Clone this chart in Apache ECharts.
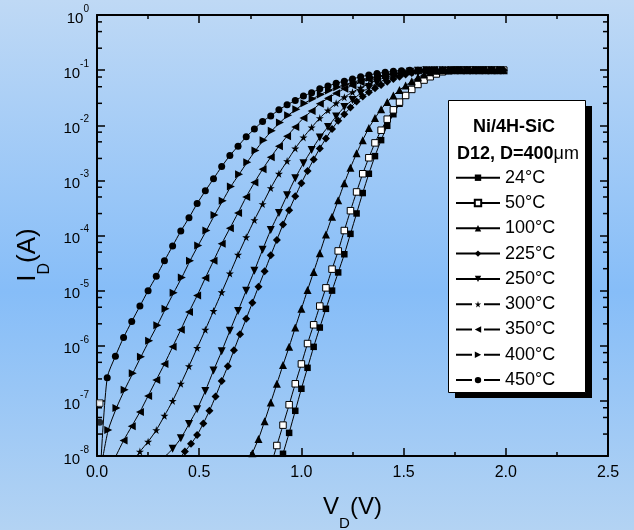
<!DOCTYPE html>
<html>
<head>
<meta charset="utf-8">
<title>Ni/4H-SiC I-V</title>
<script src="https://cdn.jsdelivr.net/npm/echarts@6.0.0/dist/echarts.min.js"></script>
<style>
  html, body { margin: 0; padding: 0; }
  #chart { width: 634px; height: 530px; }
</style>
</head>
<body>
<div id="chart"></div>
<script>
// [V_D (V), log10 I_D], one list per temperature
const pts24 = [[0.88,-8.34],[0.91,-7.96],[0.94,-7.58],[0.97,-7.18],[1.00,-6.78],[1.03,-6.40],[1.06,-6.02],[1.09,-5.67],[1.12,-5.33],[1.15,-5.00],[1.18,-4.67],[1.21,-4.34],[1.24,-3.97],[1.27,-3.60],[1.30,-3.23],[1.33,-2.88],[1.36,-2.56],[1.39,-2.27],[1.42,-2.01],[1.45,-1.80],[1.48,-1.61],[1.51,-1.46],[1.54,-1.34],[1.57,-1.24],[1.60,-1.16],[1.63,-1.10],[1.66,-1.05],[1.69,-1.02],[1.72,-1],[1.75,-1],[1.78,-1],[1.81,-1],[1.84,-1],[1.87,-1],[1.90,-1],[1.93,-1],[1.96,-1],[1.99,-1]];
const pts50 = [[0.85,-8.18],[0.88,-7.81],[0.91,-7.44],[0.94,-7.07],[0.97,-6.69],[1.00,-6.33],[1.03,-5.96],[1.06,-5.62],[1.09,-5.28],[1.12,-4.95],[1.15,-4.61],[1.18,-4.28],[1.21,-3.91],[1.24,-3.55],[1.27,-3.21],[1.30,-2.88],[1.33,-2.59],[1.36,-2.32],[1.39,-2.09],[1.42,-1.89],[1.45,-1.72],[1.48,-1.58],[1.51,-1.46],[1.54,-1.35],[1.57,-1.26],[1.60,-1.18],[1.63,-1.12],[1.66,-1.07],[1.69,-1.03],[1.72,-1.01],[1.75,-1],[1.78,-1],[1.81,-1],[1.84,-1],[1.87,-1],[1.90,-1],[1.93,-1],[1.96,-1],[1.99,-1]];
const pts100 = [[0.73,-8.25],[0.76,-7.95],[0.79,-7.69],[0.82,-7.37],[0.85,-7.03],[0.88,-6.69],[0.91,-6.35],[0.94,-6.02],[0.97,-5.67],[1.00,-5.33],[1.03,-4.99],[1.06,-4.66],[1.09,-4.32],[1.12,-3.98],[1.15,-3.66],[1.18,-3.36],[1.21,-3.05],[1.24,-2.77],[1.27,-2.51],[1.30,-2.27],[1.33,-2.05],[1.36,-1.87],[1.39,-1.71],[1.42,-1.58],[1.45,-1.46],[1.48,-1.36],[1.51,-1.28],[1.54,-1.20],[1.57,-1.13],[1.60,-1.08],[1.63,-1.04],[1.66,-1.01],[1.69,-1],[1.72,-1],[1.75,-1],[1.78,-1],[1.81,-1],[1.84,-1],[1.87,-1],[1.90,-1],[1.93,-1],[1.96,-1],[1.99,-1]];
const pts225 = [[0.40,-8.06],[0.43,-7.92],[0.46,-7.78],[0.49,-7.62],[0.52,-7.41],[0.55,-7.18],[0.58,-6.92],[0.61,-6.64],[0.64,-6.37],[0.67,-6.08],[0.70,-5.79],[0.73,-5.51],[0.76,-5.22],[0.79,-4.93],[0.82,-4.65],[0.85,-4.36],[0.88,-4.08],[0.91,-3.80],[0.94,-3.54],[0.97,-3.29],[1.00,-3.05],[1.03,-2.83],[1.06,-2.62],[1.09,-2.42],[1.12,-2.24],[1.15,-2.07],[1.18,-1.92],[1.21,-1.80],[1.24,-1.68],[1.27,-1.57],[1.30,-1.48],[1.33,-1.40],[1.36,-1.33],[1.39,-1.27],[1.42,-1.21],[1.45,-1.16],[1.48,-1.12],[1.51,-1.08],[1.54,-1.05],[1.57,-1.03],[1.60,-1.01],[1.63,-1],[1.66,-1],[1.69,-1],[1.72,-1],[1.75,-1],[1.78,-1],[1.81,-1],[1.84,-1],[1.87,-1],[1.90,-1],[1.93,-1],[1.96,-1],[1.99,-1]];
const pts250 = [[0.33,-8.02],[0.37,-7.87],[0.41,-7.68],[0.45,-7.42],[0.49,-7.15],[0.53,-6.82],[0.57,-6.45],[0.61,-6.10],[0.65,-5.73],[0.69,-5.37],[0.73,-5.00],[0.77,-4.64],[0.81,-4.26],[0.85,-3.90],[0.89,-3.59],[0.93,-3.27],[0.97,-2.96],[1.01,-2.69],[1.05,-2.45],[1.09,-2.22],[1.13,-2.03],[1.17,-1.84],[1.21,-1.67],[1.25,-1.54],[1.29,-1.42],[1.33,-1.32],[1.37,-1.24],[1.41,-1.17],[1.45,-1.12],[1.49,-1.07],[1.53,-1.03],[1.57,-1.01],[1.61,-1],[1.65,-1],[1.69,-1],[1.73,-1],[1.77,-1],[1.81,-1],[1.85,-1],[1.89,-1],[1.93,-1],[1.97,-1]];
const pts300 = [[0.17,-8.12],[0.21,-7.92],[0.25,-7.74],[0.29,-7.53],[0.33,-7.27],[0.37,-7.00],[0.41,-6.69],[0.45,-6.37],[0.49,-6.04],[0.53,-5.71],[0.57,-5.37],[0.61,-5.03],[0.65,-4.69],[0.69,-4.35],[0.73,-4.03],[0.77,-3.72],[0.81,-3.43],[0.85,-3.14],[0.89,-2.88],[0.93,-2.65],[0.97,-2.42],[1.01,-2.22],[1.05,-2.04],[1.09,-1.87],[1.13,-1.73],[1.17,-1.60],[1.21,-1.49],[1.25,-1.40],[1.29,-1.32],[1.33,-1.25],[1.37,-1.18],[1.41,-1.14],[1.45,-1.09],[1.49,-1.06],[1.53,-1.03],[1.57,-1.01],[1.61,-1],[1.65,-1],[1.69,-1],[1.73,-1],[1.77,-1],[1.81,-1],[1.85,-1],[1.89,-1],[1.93,-1],[1.97,-1]];
const pts350 = [[0.09,-8.02],[0.13,-7.72],[0.17,-7.46],[0.21,-7.20],[0.25,-6.91],[0.29,-6.62],[0.33,-6.33],[0.37,-6.02],[0.41,-5.71],[0.45,-5.39],[0.49,-5.09],[0.53,-4.77],[0.57,-4.46],[0.61,-4.15],[0.65,-3.87],[0.69,-3.59],[0.73,-3.30],[0.77,-3.04],[0.81,-2.80],[0.85,-2.58],[0.89,-2.38],[0.93,-2.20],[0.97,-2.03],[1.01,-1.87],[1.05,-1.74],[1.09,-1.61],[1.13,-1.51],[1.17,-1.42],[1.21,-1.34],[1.25,-1.28],[1.29,-1.22],[1.33,-1.17],[1.37,-1.13],[1.41,-1.10],[1.45,-1.07],[1.49,-1.05],[1.53,-1.03],[1.57,-1.01],[1.61,-1],[1.65,-1],[1.69,-1],[1.73,-1],[1.77,-1],[1.81,-1],[1.85,-1],[1.89,-1],[1.93,-1],[1.97,-1]];
const pts400 = [[0.025,-8.1],[0.055,-7.53],[0.095,-7.13],[0.135,-6.80],[0.175,-6.50],[0.215,-6.20],[0.255,-5.91],[0.295,-5.63],[0.335,-5.33],[0.375,-5.04],[0.415,-4.76],[0.455,-4.46],[0.495,-4.18],[0.535,-3.91],[0.575,-3.63],[0.615,-3.37],[0.655,-3.11],[0.695,-2.89],[0.735,-2.67],[0.775,-2.46],[0.815,-2.27],[0.855,-2.10],[0.895,-1.95],[0.935,-1.82],[0.975,-1.71],[1.015,-1.60],[1.055,-1.52],[1.095,-1.44],[1.135,-1.37],[1.175,-1.31],[1.215,-1.26],[1.255,-1.22],[1.295,-1.17],[1.335,-1.14],[1.375,-1.11],[1.415,-1.08],[1.455,-1.06],[1.495,-1.04],[1.535,-1.02],[1.575,-1.01],[1.615,-1],[1.655,-1],[1.695,-1],[1.735,-1],[1.775,-1],[1.815,-1],[1.855,-1],[1.895,-1],[1.935,-1],[1.975,-1]];
const pts450 = [[0.02,-8.05],[0.05,-6.58],[0.09,-6.19],[0.13,-5.85],[0.17,-5.56],[0.21,-5.28],[0.25,-5.00],[0.29,-4.74],[0.33,-4.46],[0.37,-4.19],[0.41,-3.92],[0.45,-3.68],[0.49,-3.42],[0.53,-3.19],[0.57,-2.97],[0.61,-2.75],[0.65,-2.55],[0.69,-2.38],[0.73,-2.21],[0.77,-2.07],[0.81,-1.93],[0.85,-1.83],[0.89,-1.72],[0.93,-1.63],[0.97,-1.55],[1.01,-1.47],[1.05,-1.41],[1.09,-1.34],[1.13,-1.29],[1.17,-1.24],[1.21,-1.20],[1.25,-1.16],[1.29,-1.12],[1.33,-1.09],[1.37,-1.06],[1.41,-1.04],[1.45,-1.02],[1.49,-1.01],[1.53,-1],[1.57,-1],[1.61,-1],[1.65,-1],[1.69,-1],[1.73,-1],[1.77,-1],[1.81,-1],[1.85,-1],[1.89,-1],[1.93,-1],[1.97,-1]];
// lone readings near 0 V that sit off the curves
const stray450 = [[0.013,-7.39]];
const stray50 = [[0.013,-7.04]];

const xTicks = [0, 2.5, 0.5];           // min, max, interval
const yDecades = [-8, 0];
const yMinorMantissa = [2.5, 5, 7.5];   // minor ticks inside each decade

const FONT = '"Liberation Sans", Arial, sans-serif';
const toAmps = pts => pts.map(p => [p[0], Math.pow(10, p[1])]);

const yMinorTicks = [];
for (let d = yDecades[0]; d < yDecades[1]; d++) {
  yMinorMantissa.forEach(m => yMinorTicks.push(m * Math.pow(10, d)));
}

const star = 'path://M50,0 L61,35 L98,35 L68,57 L79,91 L50,70 L21,91 L32,57 L2,35 L39,35 Z';

const curves = [
  { name: '24°C',  pts: pts24,  symbol: 'rect', size: 6.5 },
  { name: '50°C',  pts: pts50,  symbol: 'rect', size: 6.5, open: true },
  { name: '100°C', pts: pts100, symbol: 'triangle', size: 8 },
  { name: '225°C', pts: pts225, symbol: 'diamond', size: 8 },
  { name: '250°C', pts: pts250, symbol: 'triangle', size: 8, rotate: 180 },
  { name: '300°C', pts: pts300, symbol: star, size: 8, dashed: true },
  { name: '350°C', pts: pts350, symbol: 'triangle', size: 8, rotate: 90, dashed: true },
  { name: '400°C', pts: pts400, symbol: 'triangle', size: 8, rotate: -90, dashed: true },
  { name: '450°C', pts: pts450, symbol: 'circle', size: 7, dashed: true }
];

function markStyle(c) {
  return c.open ? { color: '#fff', borderColor: '#000', borderWidth: 1 } : { color: '#000' };
}

const series = curves.map(c => ({
  name: c.name,
  type: 'line',
  data: toAmps(c.pts),
  symbol: c.symbol,
  symbolSize: c.size,
  symbolRotate: c.rotate || 0,
  smooth: 0.25,
  lineStyle: { color: '#000', width: 1 },
  itemStyle: markStyle(c),
  emphasis: { disabled: true },
  z: 2
}));
series.push({
  name: '450°C', type: 'scatter', data: toAmps(stray450),
  symbol: 'circle', symbolSize: 7, itemStyle: { color: '#000' }, z: 2
});
series.push({
  name: '50°C', type: 'scatter', data: toAmps(stray50),
  symbol: 'rect', symbolSize: 6.5, itemStyle: { color: '#fff', borderColor: '#000', borderWidth: 1 }, z: 2
});
// minor ticks of the log axes (2.5, 5, 7.5 per decade), left and right frame
series.push({
  type: 'custom', silent: true, clip: false, z: 5,
  data: yMinorTicks.map(v => [xTicks[0], v]),
  renderItem: (params, api) => {
    const l = api.coord([xTicks[0], api.value(1)]);
    const r = api.coord([xTicks[1], api.value(1)]);
    return {
      type: 'group',
      children: [
        { type: 'line', shape: { x1: l[0], y1: l[1], x2: l[0] + 5, y2: l[1] }, style: { stroke: '#000', lineWidth: 1.5 } },
        { type: 'line', shape: { x1: r[0] - 5, y1: r[1], x2: r[0], y2: r[1] }, style: { stroke: '#000', lineWidth: 1.5 } }
      ]
    };
  }
});

const axisBlack = { color: '#000', width: 2 };
const tickBlack = { color: '#000', width: 1.5 };

const chart = echarts.init(document.getElementById('chart'));
chart.setOption({
  animation: false,
  backgroundColor: new echarts.graphic.LinearGradient(0, 0, 0, 1, [
    { offset: 0, color: '#bfd9f5' },
    { offset: 0.55, color: '#86bdf8' },
    { offset: 1, color: '#b3d3f3' }
  ]),
  grid: { left: 97, right: 26, top: 15, bottom: 74, outerBoundsMode: 'none' },
  xAxis: [
    {
      type: 'value', position: 'bottom', min: xTicks[0], max: xTicks[1], interval: xTicks[2],
      axisLine: { onZero: false, lineStyle: axisBlack },
      axisTick: { inside: true, length: 8, lineStyle: tickBlack },
      minorTick: { show: true, splitNumber: 2, length: 4, lineStyle: tickBlack },
      splitLine: { show: false },
      axisLabel: { color: '#000', fontFamily: FONT, fontSize: 16, margin: 9, formatter: v => v.toFixed(1) },
      name: '{v|V}{s|D}{v|(V)}', nameLocation: 'middle', nameGap: 39,
      nameTextStyle: {
        rich: {
          v: { fontFamily: FONT, fontSize: 24, color: '#000', lineHeight: 36, verticalAlign: 'top' },
          s: { fontFamily: FONT, fontSize: 15, color: '#000', lineHeight: 36, verticalAlign: 'bottom' }
        }
      }
    },
    {
      type: 'value', position: 'top', min: xTicks[0], max: xTicks[1], interval: xTicks[2],
      axisLine: { onZero: false, lineStyle: axisBlack },
      axisTick: { inside: true, length: 8, lineStyle: tickBlack },
      minorTick: { show: true, splitNumber: 2, length: 4, lineStyle: tickBlack },
      splitLine: { show: false },
      axisLabel: { show: false }
    }
  ],
  yAxis: [
    {
      type: 'log', logBase: 10, position: 'left', min: Math.pow(10, yDecades[0]), max: Math.pow(10, yDecades[1]),
      axisLine: { onZero: false, lineStyle: axisBlack },
      axisTick: { inside: true, length: 8, lineStyle: tickBlack },
      splitLine: { show: false },
      axisLabel: {
        margin: 8,
        formatter: v => '{b|10}{s|' + Math.round(Math.log10(v)) + '}',
        rich: {
          b: { fontFamily: FONT, fontSize: 15, color: '#000', lineHeight: 22, verticalAlign: 'bottom' },
          s: { fontFamily: FONT, fontSize: 10, color: '#000', lineHeight: 22, verticalAlign: 'top' }
        }
      },
      name: '{v|I}{s|D}{v|(A)}', nameLocation: 'middle', nameGap: 42,
      nameTextStyle: {
        padding: [0, 39, 0, 0],
        rich: {
          v: { fontFamily: FONT, fontSize: 26, color: '#000', lineHeight: 38, verticalAlign: 'top' },
          s: { fontFamily: FONT, fontSize: 16, color: '#000', lineHeight: 38, verticalAlign: 'bottom' }
        }
      }
    },
    {
      type: 'log', logBase: 10, position: 'right', min: Math.pow(10, yDecades[0]), max: Math.pow(10, yDecades[1]),
      axisLine: { onZero: false, lineStyle: axisBlack },
      axisTick: { inside: true, length: 8, lineStyle: tickBlack },
      splitLine: { show: false },
      axisLabel: { show: false }
    }
  ],
  legend: {
    orient: 'vertical', left: 455, top: 167.7, padding: 0,
    itemWidth: 44, itemHeight: 8, itemGap: 5.3,
    selectedMode: false, z: 6,
    textStyle: { fontFamily: FONT, fontSize: 18, color: '#000', lineHeight: 20 },
    data: curves.map(c => c.dashed ? { name: c.name, lineStyle: { type: [16, 12] } } : { name: c.name })
  },
  graphic: [
    { type: 'rect', z: 3, shape: { x: 455, y: 106, width: 137, height: 292 }, style: { fill: '#000' } },
    { type: 'rect', z: 4, shape: { x: 448.5, y: 100.5, width: 137, height: 292 }, style: { fill: '#fff', stroke: '#000', lineWidth: 1 } },
    { type: 'text', z: 5, x: 514, y: 127.5,
      style: { text: 'Ni/4H-SiC', fontFamily: FONT, fontSize: 18, fontWeight: 'bold', fill: '#000', align: 'center', verticalAlign: 'middle' } },
    { type: 'text', z: 5, x: 518, y: 154,
      style: {
        text: '{b|D12, D=400}{n|μm}', align: 'center', verticalAlign: 'middle',
        rich: {
          b: { fontFamily: FONT, fontSize: 18, fontWeight: 'bold', fill: '#000' },
          n: { fontFamily: FONT, fontSize: 18, fill: '#000' }
        }
      } }
  ],
  series: series
});
</script>
</body>
</html>
